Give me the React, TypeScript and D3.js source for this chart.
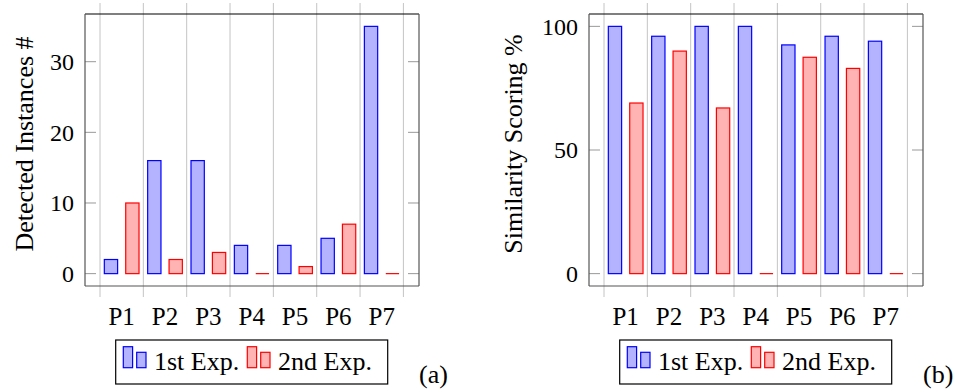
import React from "react";
import * as d3 from "d3";

const categories = ["P1", "P2", "P3", "P4", "P5", "P6", "P7"];

// Panel (a): detected instances
const instances1st = [2, 16, 16, 4, 4, 5, 35];
const instances2nd = [10, 2, 3, 0, 1, 7, 0];
const instancesTicks = [0, 10, 20, 30];

// Panel (b): similarity scoring
const similarity1st = [100, 96, 100, 100, 92.5, 96, 94];
const similarity2nd = [69, 90, 67, 0, 87.5, 83, 0];
const similarityTicks = [0, 50, 100];

const seriesNames = ["1st Exp.", "2nd Exp."];

const FONT = "'Liberation Serif', 'Times New Roman', serif";
const BLUE = { stroke: "#0000ff", fill: "#b3b3ff" };
const RED = { stroke: "#ff0000", fill: "#ffb3b3" };

interface PanelProps {
  left: number;
  values1: number[];
  values2: number[];
  domain: [number, number];
  ticks: number[];
  ylabel: string;
  labelX: number;
  caption: string;
}

const Panel: React.FC<PanelProps> = ({ left, values1, values2, domain, ticks, ylabel, labelX, caption }) => {
  const width = 334;
  const top = 14;
  const bottom = 286;

  const x = d3.scaleBand<string>().domain(categories).range([15, 318.4]).padding(0);
  const y = d3.scaleLinear().domain(domain).range([bottom, top]);
  const bw = x.bandwidth();
  const barW = 13.3;
  const shift = 10.7;

  const gridXs = categories.map((c) => x(c) as number).concat([(x(categories[6]) as number) + bw]);

  const bar = (v: number, i: number, dx: number, col: { stroke: string; fill: string }) => {
    const cx = (x(categories[i]) as number) + bw / 2 + dx;
    const y0 = y(0);
    const y1 = y(v);
    if (v === 0) {
      // zero-height bar shows as a flat outline
      return (
        <line key={`${dx}-${i}`} x1={cx - barW / 2} x2={cx + barW / 2} y1={y0} y2={y0} stroke={col.stroke} strokeWidth={1.2} />
      );
    }
    return (
      <rect
        key={`${dx}-${i}`}
        x={cx - barW / 2}
        y={Math.min(y0, y1)}
        width={barW}
        height={Math.abs(y0 - y1)}
        fill={col.fill}
        stroke={col.stroke}
        strokeWidth={1.2}
      />
    );
  };

  // legend box
  const lx = left + 30.7;
  const ly = 340;

  return (
    <g>
      <g transform={`translate(${left},0)`}>
        {/* vertical grid */}
        {gridXs.map((gx, i) => (
          <line key={i} x1={gx} x2={gx} y1={3} y2={297} stroke="#c4c4c4" strokeWidth={1} />
        ))}
        {/* y ticks */}
        {ticks.map((t) => (
          <g key={t}>
            <line x1={0} x2={11} y1={y(t)} y2={y(t)} stroke="#999" strokeWidth={1} />
            <line x1={width - 11} x2={width} y1={y(t)} y2={y(t)} stroke="#999" strokeWidth={1} />
            <text
              x={-11}
              y={y(t)}
              dy="0.35em"
              textAnchor="end"
              fontFamily={FONT}
              fontSize={24}
              fill="#000"
            >
              {t}
            </text>
          </g>
        ))}
        {/* bars */}
        {values1.map((v, i) => bar(v, i, -shift, BLUE))}
        {values2.map((v, i) => bar(v, i, shift, RED))}
        {/* frame */}
        <line x1={0} x2={width} y1={top} y2={top} stroke="#000" strokeWidth={1.2} />
        <line x1={0} x2={0} y1={top} y2={bottom} stroke="#555" strokeWidth={1.2} />
        <line x1={width} x2={width} y1={top} y2={bottom} stroke="#555" strokeWidth={1.2} />
        <line x1={0} x2={width} y1={bottom} y2={bottom} stroke="#555" strokeWidth={1.2} />
        {/* x labels */}
        {categories.map((c) => (
          <text
            key={c}
            x={(x(c) as number) + bw / 2}
            y={325}
            textAnchor="middle"
            fontFamily={FONT}
            fontSize={25}
            fill="#000"
          >
            {c}
          </text>
        ))}
      </g>
      {/* y label */}
      <text
        transform={`translate(${labelX},${144}) rotate(-90)`}
        textAnchor="middle"
        fontFamily={FONT}
        fontSize={26}
        fill="#000"
      >
        {ylabel}
      </text>
      {/* legend */}
      <rect x={lx} y={ly} width={272} height={44} fill="#fff" stroke="#000" strokeWidth={1.2} />
      {[BLUE, RED].map((col, k) => {
        const ox = lx + k * 124;
        return (
          <g key={k}>
            <rect x={ox + 7.6} y={ly + 6.7} width={9.3} height={21} fill={col.fill} stroke={col.stroke} strokeWidth={1.2} />
            <rect x={ox + 21} y={ly + 12.3} width={9.3} height={15.4} fill={col.fill} stroke={col.stroke} strokeWidth={1.2} />
            <text x={ox + 38.3} y={ly + 29.5} fontFamily={FONT} fontSize={26} fill="#000">
              {seriesNames[k]}
            </text>
          </g>
        );
      })}
      <text x={left + width} y={383} fontFamily={FONT} fontSize={26} fill="#000">
        {caption}
      </text>
    </g>
  );
};

export default function App() {
  return (
    <svg
      width={953}
      height={391}
      style={{ position: "absolute", left: 0, top: 0, background: "#fff" }}
    >
      <Panel
        left={85}
        values1={instances1st}
        values2={instances2nd}
        domain={[-1.75, 36.75]}
        ticks={instancesTicks}
        ylabel="Detected Instances #"
        labelX={33}
        caption="(a)"
      />
      <Panel
        left={589}
        values1={similarity1st}
        values2={similarity2nd}
        domain={[-5, 105]}
        ticks={similarityTicks}
        ylabel="Similarity Scoring %"
        labelX={522}
        caption="(b)"
      />
    </svg>
  );
}
